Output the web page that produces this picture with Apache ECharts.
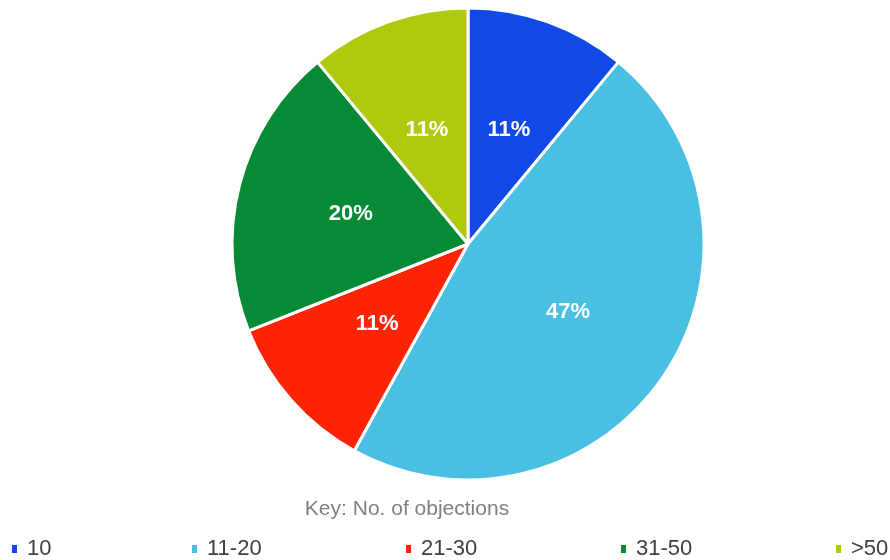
<!DOCTYPE html>
<html><head><meta charset="utf-8">
<style>html,body{margin:0;padding:0;background:#fff}#c{width:890px;height:560px}</style>
<script src="https://cdn.jsdelivr.net/npm/echarts@6/dist/echarts.min.js"></script>
</head><body><div id="c"></div>
<script>
const categories = ['10', '11-20', '21-30', '31-50', '>50'];
const values = [11, 47, 11, 20, 11];
const colors = ['#1049E6', '#49BFE1', '#FF2305', '#068A36', '#B0C90F'];
const legendLefts = [10, 190, 404, 619, 834];

const chart = echarts.init(document.getElementById('c'));
const legends = categories.map((name, i) => ({
  data: [name],
  left: legendLefts[i],
  top: 538,
  padding: 0,
  icon: 'rect',
  itemWidth: 7,
  itemHeight: 10,
  itemGap: 0,
  textStyle: { fontFamily: 'Liberation Sans, Arial, sans-serif', fontSize: 22, color: '#404040', padding: [0, 0, 0, 4] },
  selectedMode: false
}));
chart.setOption({
  animation: false,
  title: {
    text: 'Key: No. of objections',
    left: 402, top: 494, textAlign: 'center',
    textStyle: { fontFamily: 'Liberation Sans, Arial, sans-serif', fontSize: 21, fontWeight: 'normal', color: '#808080' }
  },
  legend: legends,
  series: [{
    type: 'pie',
    center: [468, 244],
    radius: [0, 236],
    startAngle: 90,
    clockwise: true,
    avoidLabelOverlap: false,
    itemStyle: { borderColor: '#fff', borderWidth: 3 },
    label: {
      show: true, position: 'inside',
      formatter: p => p.value + '%',
      color: '#fff', fontSize: 22, fontWeight: 'bold',
      fontFamily: 'Liberation Sans, Arial, sans-serif'
    },
    labelLine: { show: false },
    emphasis: { disabled: true },
    data: categories.map((c, i) => ({ name: c, value: values[i], itemStyle: { color: colors[i] } }))
  }]
});
</script></body></html>
